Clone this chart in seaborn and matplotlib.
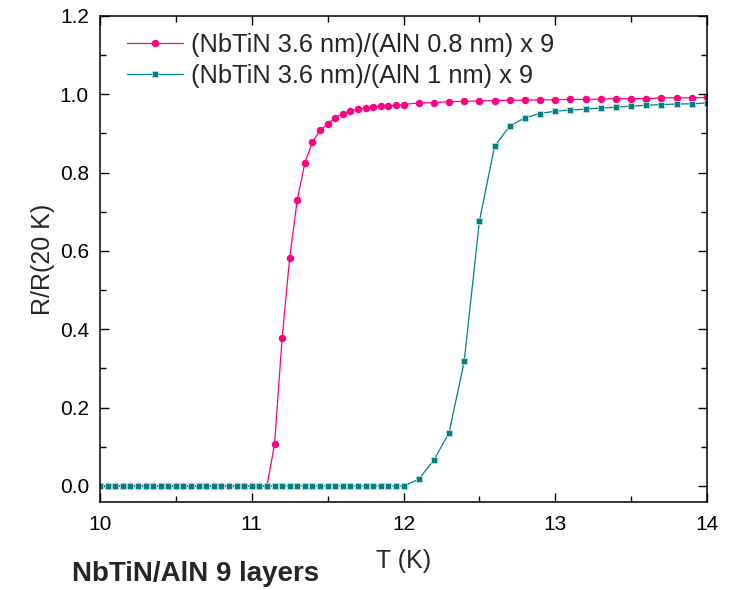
import matplotlib
matplotlib.use("Agg")
import matplotlib.pyplot as plt
from matplotlib.ticker import MultipleLocator, FormatStrFormatter
import pandas as pd
import seaborn as sns

# Temperature sweep (K) and normalised resistance R/R(20 K)
t_08nm = [10.00, 10.05, 10.10, 10.15, 10.20, 10.25, 10.30, 10.35, 10.40, 10.45,
          10.50, 10.55, 10.60, 10.65, 10.70, 10.75, 10.80, 10.85, 10.90, 10.95,
          11.00, 11.05, 11.10, 11.15, 11.20, 11.25, 11.30, 11.35, 11.40, 11.45,
          11.50, 11.55, 11.60, 11.65, 11.70, 11.75, 11.80, 11.85, 11.90, 11.95,
          12.00, 12.10, 12.20, 12.30, 12.40, 12.50, 12.60, 12.70, 12.80, 12.90,
          13.00, 13.10, 13.20, 13.30, 13.40, 13.50, 13.60, 13.70, 13.80, 13.90,
          14.00]
r_08nm = [0.0, 0.0, 0.0, 0.0, 0.0, 0.0, 0.0, 0.0, 0.0, 0.0,
          0.0, 0.0, 0.0, 0.0, 0.0, 0.0, 0.0, 0.0, 0.0, 0.0,
          0.0, 0.0, 0.0, 0.106, 0.377, 0.583, 0.731, 0.825, 0.878, 0.908,
          0.925, 0.940, 0.951, 0.958, 0.962, 0.965, 0.968, 0.970, 0.971, 0.972,
          0.974, 0.978, 0.979, 0.981, 0.982, 0.983, 0.984, 0.985, 0.985, 0.986,
          0.986, 0.987, 0.987, 0.988, 0.989, 0.989, 0.989, 0.991, 0.991, 0.991,
          0.992]

t_1nm = [10.00, 10.05, 10.10, 10.15, 10.20, 10.25, 10.30, 10.35, 10.40, 10.45,
         10.50, 10.55, 10.60, 10.65, 10.70, 10.75, 10.80, 10.85, 10.90, 10.95,
         11.00, 11.05, 11.10, 11.15, 11.20, 11.25, 11.30, 11.35, 11.40, 11.45,
         11.50, 11.55, 11.60, 11.65, 11.70, 11.75, 11.80, 11.85, 11.90, 11.95,
         12.00, 12.10, 12.20, 12.30, 12.40, 12.50, 12.60, 12.70, 12.80, 12.90,
         13.00, 13.10, 13.20, 13.30, 13.40, 13.50, 13.60, 13.70, 13.80, 13.90,
         14.00]
r_1nm = [0.0, 0.0, 0.0, 0.0, 0.0, 0.0, 0.0, 0.0, 0.0, 0.0,
         0.0, 0.0, 0.0, 0.0, 0.0, 0.0, 0.0, 0.0, 0.0, 0.0,
         0.0, 0.0, 0.0, 0.0, 0.0, 0.0, 0.0, 0.0, 0.0, 0.0,
         0.0, 0.0, 0.0, 0.0, 0.0, 0.0, 0.0, 0.0, 0.0, 0.0,
         0.0, 0.017, 0.066, 0.135, 0.318, 0.676, 0.867, 0.919, 0.940, 0.951,
         0.957, 0.960, 0.962, 0.965, 0.967, 0.970, 0.972, 0.974, 0.975, 0.976,
         0.978]

label_08nm = "(NbTiN 3.6 nm)/(AlN 0.8 nm) x 9"
label_1nm = "(NbTiN 3.6 nm)/(AlN 1 nm) x 9"

df_08 = pd.DataFrame({"T": t_08nm, "R": r_08nm})
df_1 = pd.DataFrame({"T": t_1nm, "R": r_1nm})

sns.set_style("ticks")
plt.rcParams["font.family"] = ["Liberation Sans", "DejaVu Sans"]

fig = plt.figure(figsize=(7.39, 5.90), dpi=100)
ax = fig.add_axes([100 / 739, 88 / 590, 607 / 739, 486 / 590])

sns.lineplot(data=df_08, x="T", y="R", ax=ax, color="#ff0080", linewidth=0.9,
             marker="o", markersize=5.4, markeredgewidth=0,
             label=label_08nm, sort=False)
sns.lineplot(data=df_1, x="T", y="R", ax=ax, color="#008080", linewidth=0.9,
             marker="s", markersize=4.5, markeredgewidth=0.6,
             markeredgecolor="#b8dede", label=label_1nm, sort=False)

ax.set_xlim(10, 14)
ax.set_ylim(-0.041, 1.2)
ax.xaxis.set_major_locator(MultipleLocator(1))
ax.xaxis.set_minor_locator(MultipleLocator(0.5))
ax.yaxis.set_major_locator(MultipleLocator(0.2))
ax.yaxis.set_minor_locator(MultipleLocator(0.1))
ax.yaxis.set_major_formatter(FormatStrFormatter("%.1f"))

ax.tick_params(which="both", direction="in", top=True, right=True,
               width=1.0, colors="black", labelsize=15)
ax.tick_params(axis="x", which="major", pad=9)
ax.tick_params(axis="y", which="major", pad=8)
ax.tick_params(which="major", length=6.5)
ax.tick_params(which="minor", length=4)
for side in ax.spines.values():
    side.set_visible(True)
    side.set_linewidth(1.1)
    side.set_color("black")

ax.set_xlabel("T (K)", fontsize=18)
ax.set_ylabel("R/R(20 K)", fontsize=18)
ax.xaxis.set_label_coords(0.5, -0.097)
ax.yaxis.set_label_coords(-0.074, 0.5)

ax.legend(loc="upper left", bbox_to_anchor=(0.0445, 0.965), frameon=False,
          fontsize=18.3, handlelength=2.2, handletextpad=0.31,
          labelspacing=0.28, borderpad=0, borderaxespad=0)

fig.text(72 / 739, 1 - 574 / 590, "NbTiN/AlN 9 layers", fontsize=20,
         fontweight="bold", ha="left", va="center")

fig.savefig("out.png", dpi=100)
